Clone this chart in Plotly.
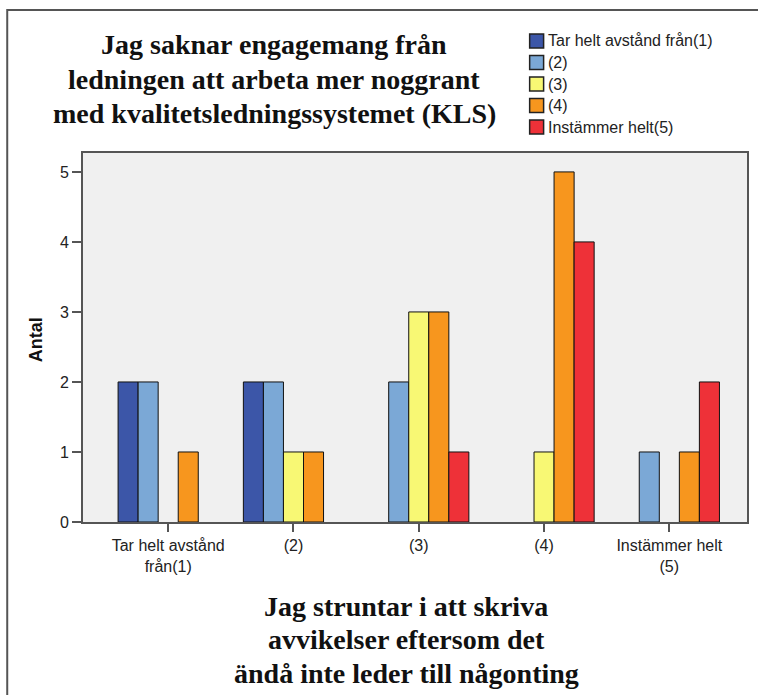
import plotly.graph_objects as go

categories = ["Tar helt avstånd<br>från(1)", "(2)", "(3)", "(4)", "Instämmer helt<br>(5)"]
series_names = ["Tar helt avstånd från(1)", "(2)", "(3)", "(4)", "Instämmer helt(5)"]
s1 = [2, 2, 0, 0, 0]
s2 = [2, 2, 2, 0, 1]
s3 = [0, 1, 3, 1, 0]
s4 = [1, 1, 3, 5, 1]
s5 = [0, 0, 1, 4, 2]
colors = ["#3C56A8", "#7BA8D6", "#F8F874", "#F7961E", "#EE3138"]
title_lines = ["Jag saknar engagemang från", "ledningen att arbeta mer noggrant",
               "med kvalitetsledningssystemet (KLS)"]
xtitle_lines = ["Jag struntar i att skriva", "avvikelser eftersom det",
                "ändå inte leder till någonting"]

fig = go.Figure()
for name, vals, col in zip(series_names, [s1, s2, s3, s4, s5], colors):
    fig.add_trace(go.Bar(x=categories, y=[v if v else None for v in vals],
                         name=name, showlegend=False,
                         marker=dict(color=col, line=dict(color="#111111", width=1))))

W, H = 758, 695
L, R, T, B = 83, 749, 153, 522
pw, ph = R - L, B - T
def px(x): return (x - L) / pw
def py(y): return (B - y) / ph

fig.update_layout(
    width=W, height=H,
    margin=dict(l=L, r=W - R, t=T, b=H - B),
    paper_bgcolor="white", plot_bgcolor="#F0F0F0",
    barmode="group", bargap=0.2, bargroupgap=0,
    font=dict(family="Liberation Sans, Arial", size=16, color="#222"),
    showlegend=False,
    xaxis=dict(range=[-0.68, 4.62], showgrid=False, showline=True, mirror=True,
               linecolor="#555", linewidth=2, ticks="outside", ticklen=8,
               tickcolor="#555", tickwidth=2, tickfont=dict(size=16, color="#222")),
    yaxis=dict(range=[0, 5.27], showgrid=False, showline=True, mirror=True,
               linecolor="#555", linewidth=2, ticks="outside", ticklen=9,
               tickcolor="#555", tickwidth=2, tickvals=[0, 1, 2, 3, 4, 5],
               tickfont=dict(size=16, color="#222"), zeroline=False),
)

# outer frame
fig.add_shape(type="rect", xref="paper", yref="paper",
              x0=px(7), x1=px(790), y0=py(740), y1=py(10),
              line=dict(color="#555", width=2), fillcolor="rgba(0,0,0,0)", layer="below")

# legend (manual)
for i, (name, col) in enumerate(zip(series_names, colors)):
    cy = 41 + 21.5 * i
    fig.add_shape(type="rect", xref="paper", yref="paper",
                  x0=px(531), x1=px(545), y0=py(cy + 7), y1=py(cy - 7),
                  fillcolor=col, line=dict(color="#222", width=1.5))
    fig.add_annotation(xref="paper", yref="paper", x=px(547), y=py(cy),
                       text=name, showarrow=False, xanchor="left", yanchor="middle",
                       font=dict(family="Liberation Sans, Arial", size=16, color="#222"))

for i, line in enumerate(title_lines):
    fig.add_annotation(xref="paper", yref="paper", x=px(275), y=py(45 + 34 * i),
                       text="<b>" + line + "</b>", showarrow=False,
                       xanchor="center", yanchor="middle",
                       font=dict(family="Liberation Serif", size=28, color="#111"))
for i, line in enumerate(xtitle_lines):
    fig.add_annotation(xref="paper", yref="paper", x=px(407), y=py(606 + 33.5 * i),
                       text="<b>" + line + "</b>", showarrow=False,
                       xanchor="center", yanchor="middle",
                       font=dict(family="Liberation Serif", size=28, color="#111"))
fig.add_annotation(xref="paper", yref="paper", x=px(36), y=py(340),
                   text="<b>Antal</b>", textangle=-90, showarrow=False,
                   xanchor="center", yanchor="middle",
                   font=dict(family="Liberation Sans, Arial", size=18, color="#111"))

fig.write_html("out.html", config={"displayModeBar": False},
               post_script="document.body.style.margin='0px';")
